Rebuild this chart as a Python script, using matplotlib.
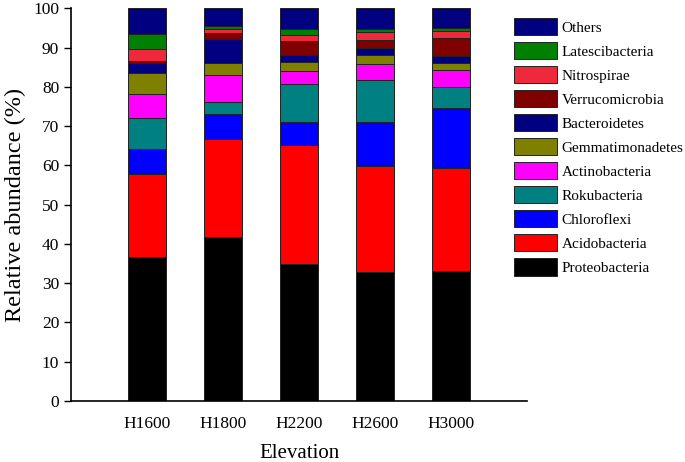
import numpy as np
import matplotlib
matplotlib.use("Agg")
import matplotlib.pyplot as plt
from matplotlib.patches import Patch

plt.rcParams['font.family'] = ['Liberation Serif', 'DejaVu Serif']

elevations = ['H1600', 'H1800', 'H2200', 'H2600', 'H3000']

# stacking order, bottom to top
phyla = ['Proteobacteria', 'Acidobacteria', 'Chloroflexi', 'Rokubacteria',
         'Actinobacteria', 'Gemmatimonadetes', 'Bacteroidetes',
         'Verrucomicrobia', 'Nitrospirae', 'Latescibacteria', 'Others']

proteobacteria = [36.6, 41.7, 34.9, 32.9, 33.0]
acidobacteria = [21.1, 25.1, 30.4, 27.0, 26.4]
chloroflexi = [6.5, 6.3, 5.8, 11.1, 15.2]
rokubacteria = [7.9, 3.1, 9.6, 10.7, 5.3]
actinobacteria = [6.1, 6.9, 3.3, 4.1, 4.4]
gemmatimonadetes = [5.4, 3.1, 2.4, 2.3, 1.9]
bacteroidetes = [2.4, 6.0, 1.8, 1.7, 1.7]
verrucomicrobia = [0.6, 1.6, 3.6, 2.2, 4.6]
nitrospirae = [3.0, 0.9, 1.5, 2.0, 1.8]
latescibacteria = [3.9, 0.7, 1.4, 0.7, 0.6]
others = [6.5, 4.6, 5.3, 5.3, 5.1]

values = [proteobacteria, acidobacteria, chloroflexi, rokubacteria,
          actinobacteria, gemmatimonadetes, bacteroidetes,
          verrucomicrobia, nitrospirae, latescibacteria, others]

colors = ['#000000', '#ff0000', '#0000ff', '#008080', '#ff00ff', '#808000',
          '#000080', '#800000', '#f0283c', '#008000', '#000080']

fig = plt.figure(figsize=(6.85, 4.62), dpi=100)
ax = fig.add_axes([0.1037, 0.132, 0.666, 0.850])

x = np.arange(len(elevations))
bottom = np.zeros(len(elevations))
for name, vals, col in zip(phyla, values, colors):
    ax.bar(x, vals, width=0.5, bottom=bottom, color=col,
           edgecolor='#222222', linewidth=0.7, label=name)
    bottom += np.array(vals)

ax.set_xlim(-1, 5)
ax.set_ylim(0, 100)
ax.set_yticks(range(0, 101, 10))
ax.set_xticks(x)
ax.set_xticklabels(elevations, fontsize=12.5)
ax.tick_params(axis='y', direction='out', length=5, width=1, labelsize=12.5)
ax.tick_params(axis='x', length=0, pad=11)
for s in ['top', 'right']:
    ax.spines[s].set_visible(False)
for s in ['left', 'bottom']:
    ax.spines[s].set_linewidth(1.2)

ax.set_ylabel('Relative abundance (%)', fontsize=17.5, labelpad=5)
ax.set_xlabel('Elevation', fontsize=15, labelpad=8.5)

handles = [Patch(facecolor=c, edgecolor='#222222', linewidth=0.7)
           for c in colors[::-1]]
fig.legend(handles, phyla[::-1], loc='upper left',
           bbox_to_anchor=(508 / 685, 1 - 12 / 462), frameon=False,
           fontsize=11, handlelength=2.8, handleheight=1.35,
           labelspacing=0.45, handletextpad=0.3, borderaxespad=0)

fig.savefig('out.png', dpi=100)
